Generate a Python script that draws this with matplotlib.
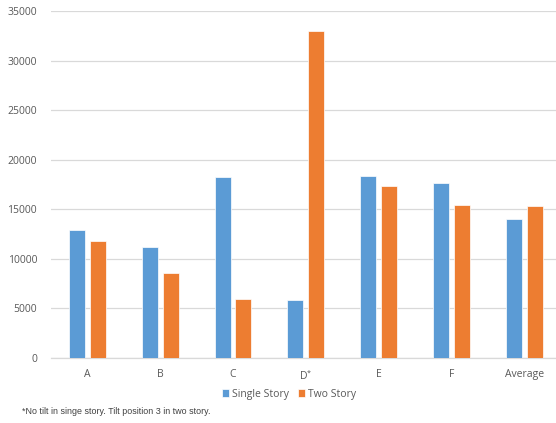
import matplotlib.pyplot as plt
import numpy as np

plt.rcParams['font.family'] = ['Open Sans', 'DejaVu Sans']
plt.rcParams['mathtext.fontset'] = 'custom'
plt.rcParams['mathtext.rm'] = 'Open Sans'

categories = ['A', 'B', 'C', 'D$^{*}$', 'E', 'F', 'Average']
single_story = [12900, 11200, 18300, 5850, 18400, 17700, 14000]
two_story = [11800, 8600, 6000, 33000, 17300, 15400, 15300]

blue = '#5B9BD5'
orange = '#ED7D31'
grey = '#595959'

fig = plt.figure(figsize=(5.56, 4.23), dpi=100)
ax = fig.add_axes([51 / 556, 65 / 423, 505 / 556, 347 / 423])

x = np.arange(len(categories))
w = 0.22
off = 0.144
ax.bar(x - off, single_story, w, color=blue, edgecolor='white', linewidth=0.5, label='Single Story', zorder=3)
ax.bar(x + off, two_story, w, color=orange, edgecolor='white', linewidth=0.5, label='Two Story', zorder=3)

ax.set_xlim(-0.5, -0.5 + 505 / 72.8)
ax.set_ylim(0, 35000)
ax.set_yticks(range(0, 35001, 5000))
ax.set_xticks(x)
ax.set_xticklabels(categories)
ax.yaxis.grid(True, color='#D9D9D9', linewidth=0.9, zorder=0)
ax.tick_params(axis='both', length=0, labelsize=7.5, labelcolor=grey)
ax.tick_params(axis='y', pad=10)
ax.tick_params(axis='x', pad=8)
for s in ['top', 'right', 'left']:
    ax.spines[s].set_visible(False)
ax.spines['bottom'].set_color('#D9D9D9')
ax.spines['bottom'].set_linewidth(0.9)

fig.legend(loc='center', bbox_to_anchor=(289 / 556, 1 - 394 / 423), ncol=2, frameon=False,
           fontsize=7.5, labelcolor=grey, handlelength=0.7, handleheight=0.7,
           handletextpad=0.3, columnspacing=0.8)

fig.text(22 / 556, 1 - 411 / 423, '*No tilt in singe story. Tilt position 3 in two story.',
         fontsize=6.4, family='Liberation Sans', color='#404040', va='center')

fig.savefig('out.png', dpi=100)
